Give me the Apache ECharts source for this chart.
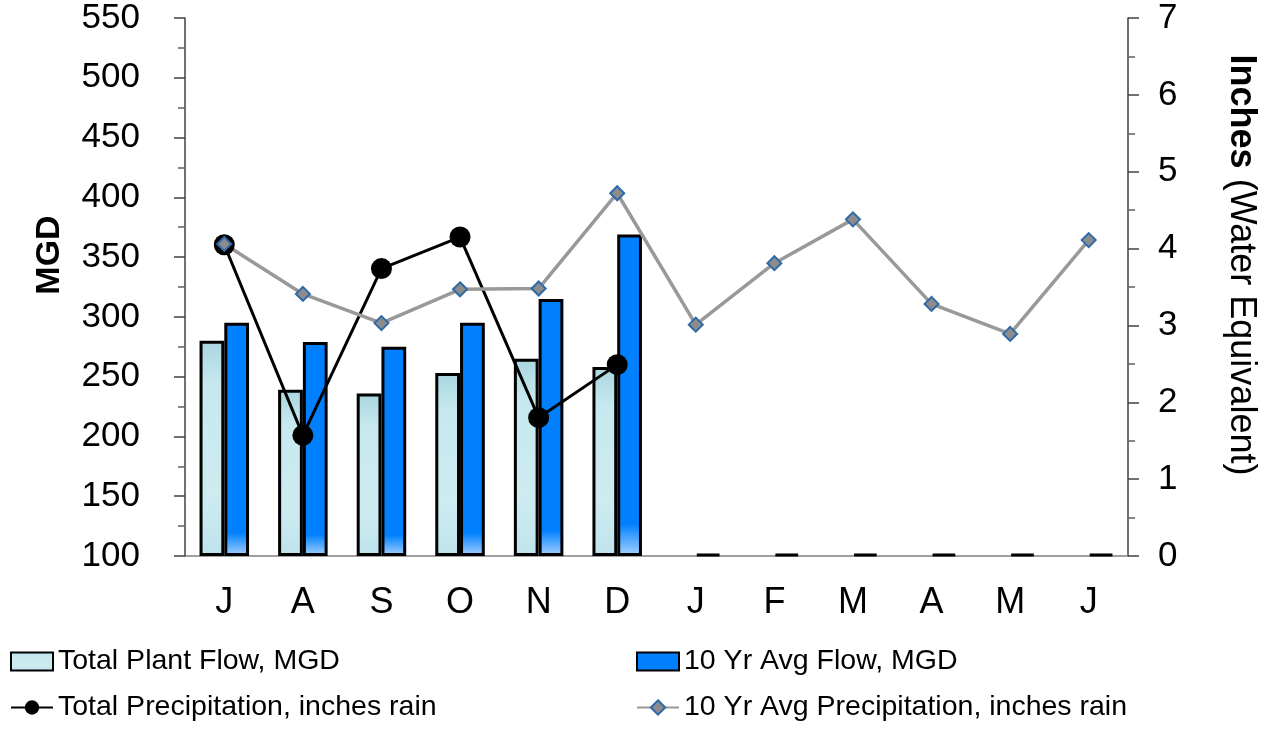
<!DOCTYPE html>
<html><head><meta charset="utf-8">
<script src="https://cdn.jsdelivr.net/npm/echarts@6/dist/echarts.min.js"></script>
<style>html,body{margin:0;padding:0;background:#fff}#c{width:1265px;height:732px}</style>
</head><body><div id="c"></div>
<script>
const categories = ['J','A','S','O','N','D','J','F','M','A','M','J'];
const plantFlow = [280, 239, 236, 253, 265, 258, null, null, null, null, null, null];
const avgFlow = [295, 279, 275, 295, 315, 369, 101, 101, 101, 101, 101, 101];
const totalPrecip = [4.05, 1.57, 3.74, 4.15, 1.80, 2.49, null, null, null, null, null, null];
const avgPrecip = [4.06, 3.41, 3.03, 3.47, 3.48, 4.72, 3.01, 3.81, 4.38, 3.28, 2.89, 4.11];
const leftTicks = {min: 100, max: 550, interval: 50};
const rightTicks = {min: 0, max: 7, interval: 1};

const FONT = 'Liberation Sans, Arial, sans-serif';
const chart = echarts.init(document.getElementById('c'));
const legendBase = {itemWidth: 42, itemHeight: 18, padding: 0, itemGap: 0,
  textStyle: {fontSize: 28.5, color: '#000', fontFamily: FONT}};
chart.setOption({
  animation: false,
  textStyle: {fontFamily: FONT},
  grid: {left: 185, right: 137, top: 18, bottom: 176},
  legend: [
    Object.assign({data: [{name: 'Total Plant Flow, MGD', icon: 'rect'}], left: 10, top: 647}, legendBase),
    Object.assign({data: [{name: '10 Yr Avg Flow, MGD', icon: 'rect'}], left: 636, top: 647}, legendBase),
    Object.assign({data: ['Total Precipitation, inches rain'], left: 10, top: 693}, legendBase),
    Object.assign({data: ['10 Yr Avg Precipitation, inches rain'], left: 636, top: 693}, legendBase)
  ],
  xAxis: {
    type: 'category', data: categories,
    axisLine: {lineStyle: {color: '#808080', width: 1.5}},
    axisTick: {length: 10, lineStyle: {color: '#404040', width: 1.5}},
    axisLabel: {fontSize: 36, color: '#000', margin: 29, interval: 0}
  },
  yAxis: [
    {
      type: 'value', min: leftTicks.min, max: leftTicks.max, interval: leftTicks.interval,
      startValue: leftTicks.min,
      splitLine: {show: false},
      axisLine: {show: true, lineStyle: {color: '#404040', width: 1.5}},
      axisTick: {show: true, length: 11, lineStyle: {color: '#404040', width: 1.5}},
      minorTick: {show: true, splitNumber: 2, length: 7, lineStyle: {color: '#606060', width: 1.5}},
      axisLabel: {fontSize: 35, color: '#000', margin: 45}
    },
    {
      type: 'value', min: rightTicks.min, max: rightTicks.max, interval: rightTicks.interval,
      position: 'right',
      splitLine: {show: false},
      axisLine: {show: true, lineStyle: {color: '#404040', width: 1.5}},
      axisTick: {show: true, length: 11, lineStyle: {color: '#404040', width: 1.5}},
      minorTick: {show: true, splitNumber: 2, length: 7, lineStyle: {color: '#606060', width: 1.5}},
      axisLabel: {fontSize: 35, color: '#000', margin: 30}
    }
  ],
  graphic: [
    {type: 'text', x: 50, y: 255, rotation: Math.PI / 2,
     style: {text: 'MGD', font: 'bold 34px ' + FONT, fill: '#000', align: 'center', verticalAlign: 'middle'}},
    {type: 'text', x: 1241, y: 265, rotation: -Math.PI / 2,
     style: {text: '{b|Inches} (Water Equivalent)', fontSize: 36, fontFamily: FONT, fill: '#000', align: 'center', verticalAlign: 'middle',
       rich: {b: {fontWeight: 'bold', fontSize: 36, fontFamily: FONT}}}}
  ],
  series: [
    {
      name: 'Total Plant Flow, MGD', type: 'bar', data: plantFlow, yAxisIndex: 0,
      barGap: '0%', barCategoryGap: '37%',
      itemStyle: {
        color: new echarts.graphic.LinearGradient(0, 0, 0, 1, [
          {offset: 0, color: '#a9d6e0'}, {offset: 0.2, color: '#c6e8ee'},
          {offset: 0.7, color: '#cdecf0'}, {offset: 1, color: '#bfe3ec'}]),
        borderColor: '#000', borderWidth: 3
      }
    },
    {
      name: '10 Yr Avg Flow, MGD', type: 'bar', data: avgFlow, yAxisIndex: 0,
      barGap: '0%', barCategoryGap: '37%', barMinHeight: 2,
      itemStyle: {
        color: new echarts.graphic.LinearGradient(0, 0, 0, 1, [
          {offset: 0, color: '#0080ff'}, {offset: 0.9, color: '#0080ff'}, {offset: 1, color: '#a8d2ff'}]),
        borderColor: '#000', borderWidth: 3
      }
    },
    {
      name: 'Total Precipitation, inches rain', type: 'line', data: totalPrecip, yAxisIndex: 1,
      symbol: 'circle', symbolSize: 21,
      lineStyle: {color: '#000', width: 3},
      itemStyle: {color: '#000'}
    },
    {
      name: '10 Yr Avg Precipitation, inches rain', type: 'line', data: avgPrecip, yAxisIndex: 1,
      symbol: 'diamond', symbolSize: 14,
      lineStyle: {color: '#999999', width: 3.5},
      itemStyle: {color: '#8c8c8c', borderColor: '#2e6aa8', borderWidth: 2}
    }
  ]
});
</script></body></html>
